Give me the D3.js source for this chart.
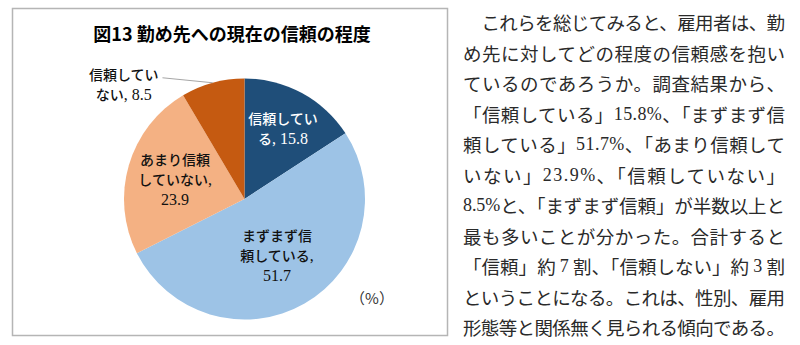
<!DOCTYPE html>
<html lang="ja">
<head>
<meta charset="utf-8">
<script src="https://cdn.jsdelivr.net/npm/d3@7"></script>
<style>
  html, body { margin: 0; padding: 0; background: #fff; }
  svg { display: block; }
</style>
</head>
<body>
<svg id="chart" width="800" height="345"></svg>
<script>
// ---- data ----
const chartTitle = "図13 勤め先への現在の信頼の程度";
const categories = ["信頼している", "まずまず信頼している", "あまり信頼していない", "信頼していない"];
const values = [15.8, 51.7, 23.9, 8.5];
const unitLabel = "（%）";

// Body text beside the chart: each line is a list of [text, isNumeric] runs
const bodyLines = [
  [["これらを総じてみると、雇用者は、勤", false]],
  [["め先に対してどの程度の信頼感を抱い", false]],
  [["ているのであろうか。調査結果から、", false]],
  [["「信頼している」", false], ["15.8%", true], ["、「まずまず信", false]],
  [["頼している」", false], ["51.7%", true], ["、「あまり信頼して", false]],
  [["いない」", false], ["23.9%", true], ["、「信頼していない」", false]],
  [["8.5%", true], ["と、「まずまず信頼」が半数以上と", false]],
  [["最も多いことが分かった。合計すると", false]],
  [["「信頼」約 ", false], ["7", true], [" 割、「信頼しない」約 ", false], ["3", true], [" 割", false]],
  [["ということになる。これは、性別、雇用", false]],
  [["形態等と関係無く見られる傾向である。", false]]
];

// ---- styling / layout ----
const colors = ["#1F4E79", "#9DC3E6", "#F4B183", "#C55A11"];
const labelColors = ["#ffffff", "#111111", "#111111", "#111111"];
const labelRadius = [0.67, 0.54, 0.60, null];   // null -> outside label with leader
const breakAt = 5;                                // characters on first label line
const valueOwnLine = [false, true, true, false];

const jpFont = "'Noto Sans CJK JP', 'Noto Sans', sans-serif";
const numFont = "'Liberation Serif', 'DejaVu Serif', serif";

const svg = d3.select("#chart");

// chart frame
svg.append("rect")
  .attr("x", 12.5).attr("y", 8.5)
  .attr("width", 435).attr("height", 327)
  .attr("fill", "#fff")
  .attr("stroke", "#b5b5b5")
  .attr("stroke-width", 1.5);

// title
svg.append("text")
  .attr("x", 232).attr("y", 33)
  .attr("text-anchor", "middle")
  .attr("dominant-baseline", "central")
  .attr("font-family", jpFont)
  .attr("font-weight", "bold")
  .attr("font-size", 18)
  .attr("fill", "#000")
  .text(chartTitle);

// pie
const cx = 244.5, cy = 199, R = 120.5;
const data = categories.map((c, i) => ({ category: c, value: values[i], i }));
const pie = d3.pie().sort(null).value(d => d.value);
const arcs = pie(data);
const arc = d3.arc().innerRadius(0).outerRadius(R);

const g = svg.append("g").attr("transform", `translate(${cx},${cy})`);
g.selectAll("path.slice")
  .data(arcs)
  .join("path")
  .attr("class", "slice")
  .attr("d", arc)
  .attr("fill", d => colors[d.data.i]);

// data labels
const lineH = 20;
const fmt = d3.format(".1f");

function labelLines(d) {
  const c = d.data.category, v = fmt(d.data.value);
  const l1 = c.slice(0, breakAt), rest = c.slice(breakAt);
  if (valueOwnLine[d.data.i]) return [[[l1, false]], [[rest, false], [",", true]], [[v, true]]];
  return [[[l1, false]], [[rest, false], [", " + v, true]]];
}

function drawLabel(d, x, y) {
  const lines = labelLines(d);
  const n = lines.length;
  const texts = [];
  lines.forEach((runs, k) => {
    const t = g.append("text")
      .attr("x", x)
      .attr("y", y + (k - (n - 1) / 2) * lineH)
      .attr("text-anchor", "middle")
      .attr("dominant-baseline", "central")
      .attr("fill", labelColors[d.data.i]);
    runs.forEach(([s, num]) => {
      t.append("tspan")
        .attr("font-family", num ? numFont : jpFont)
        .attr("font-size", num ? 16 : 14)
        .attr("font-weight", num ? "normal" : 500)
        .text(s);
    });
    texts.push(t);
  });
  return texts;
}

arcs.forEach(d => {
  const k = labelRadius[d.data.i];
  if (k !== null) {
    const [x, y] = d3.arc().innerRadius(R * k).outerRadius(R * k).centroid(d);
    drawLabel(d, x, y);
  } else {
    // outside label with leader line to the arc's midpoint
    const [ex, ey] = d3.arc().innerRadius(R).outerRadius(R).centroid(d);
    const lx = ex - 89, ly = ey + 1;
    const texts = drawLabel(d, lx, ly);
    const bb = texts[0].node().getBBox();
    g.append("line")
      .attr("x1", bb.x + bb.width + 4)
      .attr("y1", bb.y + bb.height / 2 + 4)
      .attr("x2", ex).attr("y2", ey)
      .attr("stroke", "#a6a6a6")
      .attr("stroke-width", 1);
  }
});

// unit note
svg.append("text")
  .attr("x", 372).attr("y", 297)
  .attr("text-anchor", "middle")
  .attr("dominant-baseline", "central")
  .attr("font-family", jpFont)
  .attr("font-size", 15)
  .attr("fill", "#333")
  .text(unitLabel);

// body text, justified between fixed margins
const bodyLeft = 463, bodyRight = 785, bodyTop = 22, bodyStep = 30.5, bodySize = 18.5;
bodyLines.forEach((runs, i) => {
  const x0 = i === 0 ? bodyLeft + bodySize : bodyLeft;
  const t = svg.append("text")
    .attr("x", x0)
    .attr("y", bodyTop + i * bodyStep)
    .attr("dominant-baseline", "central")
    .attr("font-size", bodySize)
    .attr("fill", "#2a2a2a")
    .attr("textLength", bodyRight - x0)
    .attr("lengthAdjust", "spacing");
  runs.forEach(([s, num]) => {
    t.append("tspan")
      .attr("font-family", num ? numFont : jpFont)
      .attr("font-size", num ? 18 : bodySize)
      .text(s);
  });
});
</script>
</body>
</html>
